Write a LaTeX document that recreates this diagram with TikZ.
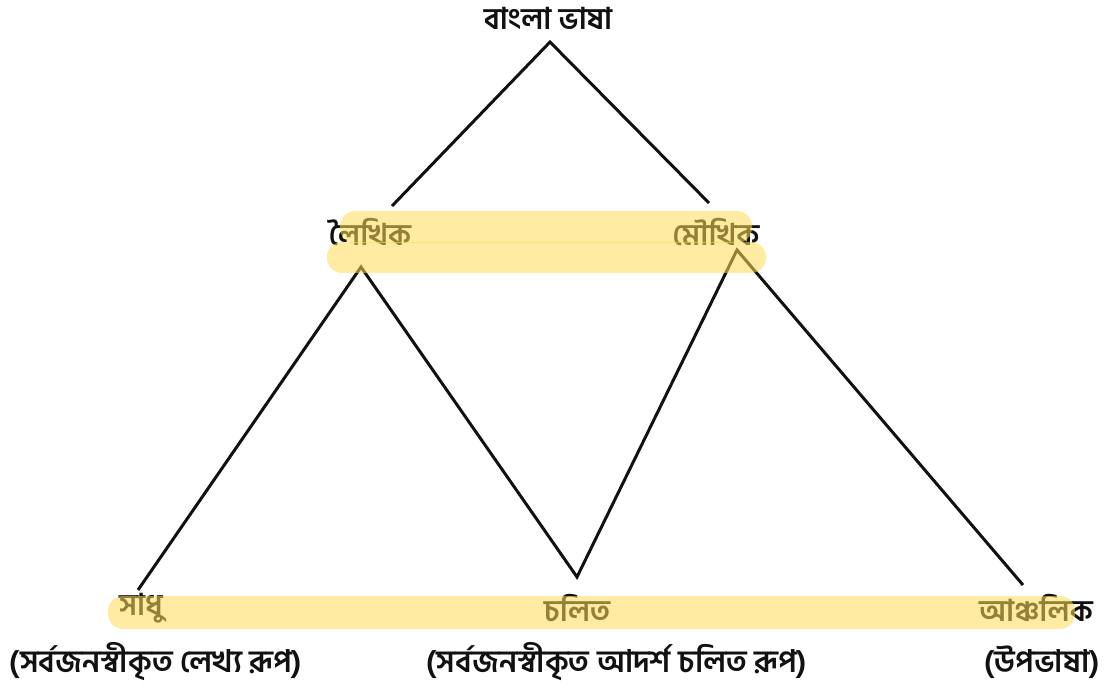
\documentclass[tikz,border=0pt]{standalone}
\usepackage{fontspec}
\newfontfamily\bnfont[Script=Bengali]{Hind Siliguri}
\usetikzlibrary{positioning, calc}
\definecolor{inkblack}{HTML}{111111}
\definecolor{hlyellow}{HTML}{FFDD55}

\tikzset{
  lbl/.style={font=\bnfont\bfseries\fontsize{30}{34}\selectfont, text=inkblack, inner sep=2pt},
  note/.style={font=\bnfont\bfseries\fontsize{31}{34}\selectfont, text=inkblack, inner sep=2pt},
  link/.style={inkblack, line width=3pt},
  marker/.style={fill=hlyellow, fill opacity=0.55, rounded corners=15pt},
}

\begin{document}
\begin{tikzpicture}[x=1pt, y=-1pt]
\useasboundingbox (0,0) rectangle (1112,687);

% Root
\node[lbl] (bangla) at (548,18) {বাংলা ভাষা};

% Middle level
\node[lbl] (lekhik) at (370,232) {লৈখিক};
\node[lbl] (moukhik) at (716,232) {মৌখিক};

% Bottom level
\node[lbl] (sadhu) at (141,608) {সাধু};
\node[lbl] (cholito) at (577,608) {চলিত};
\node[lbl] (anchalik) at (1036,608) {আঞ্চলিক};

% Notes under the bottom level
\node[note] (sadhunote) at (156,662) {(সর্বজনস্বীকৃত লেখ্য রূপ)};
\node[note] (cholitonote) at (617,662) {(সর্বজনস্বীকৃত আদর্শ চলিত রূপ)};
\node[note] (anchaliknote) at (1042,662) {(উপভাষা)};

% Links
\draw[link] ([shift={(22,-26)}]lekhik.center) -- ([shift={(2,24)}]bangla.center) -- ([shift={(-7,-29)}]moukhik.center);
\draw[link] ([shift={(-3,-18)}]sadhu.center) -- ([shift={(-9,35)}]lekhik.center) -- ([shift={(0,-31)}]cholito.center)
  -- ([shift={(21,18)}]moukhik.center) -- ([shift={(-13,-23)}]anchalik.center);

% Highlighter marks
\fill[marker] (340,211) rectangle (752,243);
\fill[marker] (327,242) rectangle (766,273);
\fill[marker] (108,596) rectangle (1075,629);

\end{tikzpicture}
\end{document}
